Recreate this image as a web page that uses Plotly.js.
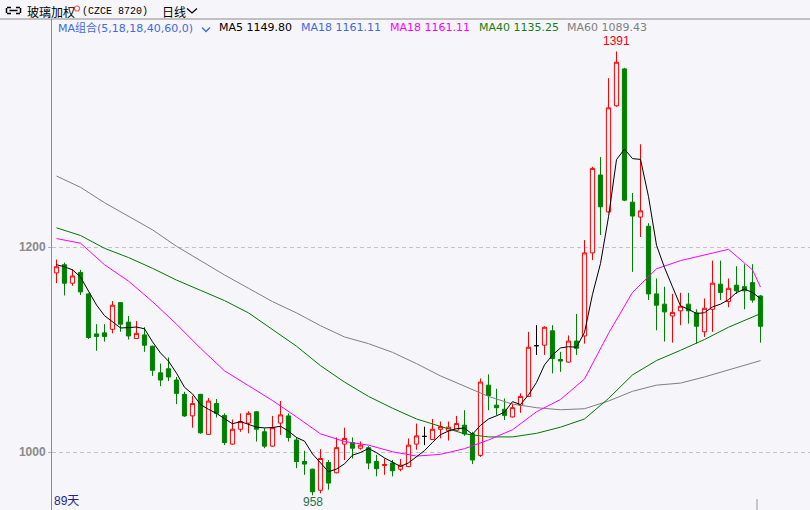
<!DOCTYPE html>
<html><head><meta charset="utf-8">
<script src="https://cdn.plot.ly/plotly-3.0.1.min.js"></script>
<style>html,body{margin:0;padding:0;background:#f5f5fa;}#chart{width:810px;height:510px;}</style>
</head><body><div id="chart"></div>
<script>
// ---- data ----
const days = [0,1,2,3,4,5,6,7,8,9,10,11,12,13,14,15,16,17,18,19,20,21,22,23,24,25,26,27,28,29,30,31,32,33,34,35,36,37,38,39,40,41,42,43,44,45,46,47,48,49,50,51,52,53,54,55,56,57,58,59,60,61,62,63,64,65,66,67,68,69,70,71,72,73,74,75,76,77,78,79,80,81,82,83,84,85,86,87,88];
const openP = [1175,1183,1165,1175.5,1154.5,1115.5,1116.5,1120,1146,1127,1111,1114.5,1103.5,1077.5,1081.5,1070.5,1056.5,1035.5,1056.5,1017.5,1047.5,1036,1008,1022.5,1028.5,1039.5,1020,1006,1028.5,1035.5,1012,991,983.5,963,990,980,1008,1009.5,1004,1004.5,991,987.2,989.5,983.5,986,1008,1015.5,1012.5,1022.5,1021,1021.5,1026.5,1018,997,1065.5,1046,1042,1034.5,1046,1054.5,1104,1104.5,1118.5,1090.5,1088,1108.5,1113.5,1194.5,1270.5,1234.5,1338,1374,1244,1229.5,1220.5,1154.5,1144.5,1133,1138,1144.5,1136,1117.5,1139.5,1164,1147,1163,1161.5,1165.5,1152.5];
const highP = [1188,1185,1178.5,1178,1155,1125,1125,1147.5,1146.5,1133,1128,1122,1104,1086.5,1092.5,1073.5,1059,1055,1057,1053,1052,1038,1032,1038,1040,1040,1023.5,1035.5,1050,1038,1015,1001.5,984,1003,992.5,1014.5,1024,1014.5,1010.5,1006,997.5,994,992.5,993.5,1013.5,1028,1025,1032.5,1030,1030,1035.5,1041,1020,1072,1076,1062,1052.5,1047.5,1057.5,1117.5,1124,1123,1124,1098,1114,1135,1207,1278.5,1288,1365,1391,1375,1253,1300.5,1223.5,1169.5,1161.5,1154.5,1155.5,1155.5,1139.5,1150,1187,1187,1169.5,1181.5,1183.5,1183.5,1153.5];
const lowP = [1165,1153,1162.5,1153.5,1110.5,1099,1108,1116,1117.5,1110,1110.5,1098,1074.5,1064.5,1069.5,1047,1034.5,1024,1018,1017,1034,1007,1007.5,1020,1018.5,1010.5,1004,1005.5,1017,1010.5,984.5,978,958,960,963.5,979.5,992.5,994,1002.5,983.5,976.5,978,976.5,981.5,985.5,1002.5,1007,1012,1013.5,1011.5,1021,1016,988.5,995.5,1041,1036,1031.5,1034,1038.5,1054,1095,1095,1077,1078.5,1087.5,1095,1106,1187.5,1212,1234,1337,1245,1176,1210,1148.5,1119,1108,1107,1124,1125.5,1106,1112.5,1117.5,1148.5,1141.5,1154.5,1139.5,1146,1107];
const closeP = [1181,1165,1172,1156.5,1112,1113,1113,1143.5,1125,1113.5,1116,1104.5,1080,1070.5,1073.5,1057.5,1035.5,1047.5,1019,1050,1038,1009.5,1022.5,1030,1038,1022.5,1006,1024,1036.5,1014.5,991,988.5,961.5,994,970,1004.5,1013.5,1004,1007,989.5,984,988,982,987.5,1007,1016,1015.5,1022.5,1025,1024.5,1028,1018,992.5,1068.5,1055.5,1043.5,1036,1043.5,1054.5,1102.5,1104,1122,1091.5,1089,1108.5,1101.5,1194.5,1277,1239.5,1336,1380.5,1246,1230.5,1235.5,1154.5,1143.5,1137,1136.5,1142.5,1138,1123,1140.5,1165,1156,1160,1157.5,1157.5,1148.5,1123];
const ma5 = [1183,1181,1178,1171,1157.3,1143.7,1133.3,1127.6,1121.3,1121.6,1122.2,1120.5,1107.8,1096.9,1088.9,1077.2,1063.4,1056.9,1046.6,1041.9,1038,1032.8,1027.8,1030,1027.6,1024.5,1023.8,1024.1,1025.4,1020.7,1014.4,1010.9,998.4,989.9,981,983.7,988.7,997.2,999.8,1003.7,999.6,994.5,990.1,986.2,989.7,996.1,1001.6,1009.7,1017.2,1020.7,1023.1,1023.6,1017.6,1026.3,1032.5,1035.6,1039.2,1049.4,1046.6,1056,1068.1,1085.3,1094.9,1101.8,1103,1102.5,1117,1154.1,1184.2,1229.7,1285.5,1295.8,1286.5,1285.7,1249.4,1202,1180.2,1161.4,1142.8,1139.5,1135.4,1136.1,1141.8,1144.5,1148.9,1155.8,1159.2,1155.9,1149.8];
const maDays = [0,3,6,9,12,15,18,21,24,27,30,33,36,39,42,45,48,51,54,57,60,63,66,69,72,75,78,81,84,87,88];
const ma18 = [1208.5,1204,1183,1167,1147,1125,1101.5,1079.5,1065,1050.5,1034.5,1018,1010.5,1007,1000.5,996.3,998,1003.5,1012,1022,1039.5,1051.5,1071.5,1116,1156,1179,1187,1192.5,1198,1178,1161.11];
const ma40 = [1219,1211.5,1199,1190,1179.5,1168,1158,1148,1136,1120,1103.5,1084.5,1068.5,1054.5,1043,1032.5,1025,1018,1015,1015,1018.5,1024.5,1032.5,1052.5,1075.5,1089.5,1099.5,1110,1122,1132,1135.25];
const ma60 = [1269.5,1258.5,1243.5,1230,1217,1201,1187,1173,1160,1147,1136,1123.5,1112.5,1106,1097.5,1086.5,1074.5,1064.5,1054.5,1047,1043.5,1041.5,1042.5,1050,1059.5,1065.5,1067.5,1073.5,1080.5,1087.5,1089.43];
const yTicks = [1000, 1200];
const yTickText = ['1000', '1200'];
const legendTexts = ['MA组合(5,18,18,40,60,0)', 'MA5 1149.80', 'MA18 1161.11', 'MA18 1161.11', 'MA40 1135.25', 'MA60 1089.43'];
const titleName = '玻璃加权';
const titleCode = '(CZCE 8720)';
const periodName = '日线';
const dayCount = '89天';

// ---- build ----
const BG = '#f5f5fa';
const RED = '#ff0000', GREEN = '#008000';
const L = 52, T = 19, W = 810, H = 510, PW = W - L, PH = H - T;
const px = x => (x - L) / PW;
const py = y => (H - y) / PH;

const norm = {x: [], o: [], h: [], l: [], c: []};
const doji = {x: [], o: [], h: [], l: [], c: []};
days.forEach((d, i) => {
  const t = openP[i] === closeP[i] ? doji : norm;
  t.x.push(d); t.o.push(openP[i]); t.h.push(highP[i]); t.l.push(lowP[i]); t.c.push(closeP[i]);
});

const traces = [
  {type: 'candlestick', x: norm.x, open: norm.o, high: norm.h, low: norm.l, close: norm.c,
   increasing: {line: {color: RED, width: 1}, fillcolor: BG},
   decreasing: {line: {color: GREEN, width: 1}, fillcolor: GREEN},
   whiskerwidth: 0, hoverinfo: 'skip'},
  {type: 'candlestick', x: doji.x, open: doji.o, high: doji.h, low: doji.l, close: doji.c,
   increasing: {line: {color: '#000000', width: 1}, fillcolor: '#000000'},
   decreasing: {line: {color: '#000000', width: 1}, fillcolor: '#000000'},
   whiskerwidth: 0, hoverinfo: 'skip'},
  {type: 'scatter', mode: 'lines', x: maDays, y: ma60, line: {color: '#808080', width: 1}, hoverinfo: 'skip'},
  {type: 'scatter', mode: 'lines', x: maDays, y: ma40, line: {color: '#007800', width: 1}, hoverinfo: 'skip'},
  {type: 'scatter', mode: 'lines', x: maDays, y: ma18, line: {color: '#ff00ff', width: 1}, hoverinfo: 'skip'},
  {type: 'scatter', mode: 'lines', x: days, y: ma5, line: {color: '#000000', width: 1}, hoverinfo: 'skip'}
];

function ann(text, x, y, font, extra) {
  return Object.assign({text: text, xref: 'paper', yref: 'paper', x: px(x), y: py(y),
    xanchor: 'left', yanchor: 'middle', showarrow: false, borderpad: 0, font: font}, extra || {});
}
const cjk = 'Noto Sans CJK SC';
const legFont = (c) => ({family: 'DejaVu Sans, ' + cjk, size: 11, color: c});

const iMax = highP.indexOf(Math.max(...highP));
const iMin = lowP.indexOf(Math.min(...lowP));

const annotations = [
  ann(titleName, 26, 11.5, {family: cjk, size: 12, color: '#000'}),
  ann(titleCode, 81, 11.5, {family: 'Liberation Mono, monospace', size: 10, color: '#000'}),
  ann(periodName, 160.5, 11.5, {family: cjk, size: 12, color: '#000'}),
  ann(legendTexts[0], 56.5, 27.5, legFont('#4169e1')),
  ann(legendTexts[1], 217.5, 27.5, legFont('#000000')),
  ann(legendTexts[2], 300, 27.5, legFont('#4169e1')),
  ann(legendTexts[3], 389, 27.5, legFont('#ff00ff')),
  ann(legendTexts[4], 477.5, 27.5, legFont('#178017')),
  ann(legendTexts[5], 566, 27.5, legFont('#808080')),
  ann(dayCount, 52.5, 501, {family: 'Liberation Sans, ' + cjk, size: 12, color: '#1e1e96'}),
  {text: String(Math.round(highP[iMax])), xref: 'x', yref: 'y', x: days[iMax], y: highP[iMax],
   xanchor: 'center', yanchor: 'bottom', yshift: 2, showarrow: false, borderpad: 0,
   font: {family: 'Liberation Sans, Arial', size: 12, color: RED}},
  {text: String(Math.round(lowP[iMin])), xref: 'x', yref: 'y', x: days[iMin], y: lowP[iMin],
   xanchor: 'center', yanchor: 'top', yshift: 1, showarrow: false, borderpad: 0,
   font: {family: 'Liberation Sans, Arial', size: 12, color: '#2a7050'}}
];

function chevron(x0, y0, w, h, color) {
  const p = 'M' + px(x0) + ',' + py(y0) + ' L' + px(x0 + w / 2) + ',' + py(y0 + h) + ' L' + px(x0 + w) + ',' + py(y0);
  return {type: 'path', xref: 'paper', yref: 'paper', path: p, line: {color: color, width: 1.3}};
}
function seg(x0, y0, x1, y1, color, w) {
  return {type: 'line', xref: 'paper', yref: 'paper', x0: px(x0), x1: px(x1), y0: py(y0), y1: py(y1), line: {color: color, width: w}};
}
const shapes = [
  seg(0, 19, W, 19, '#8c8c8c', 1),
  chevron(187, 8.5, 10, 4.5, '#000'),
  chevron(202, 27.5, 8, 4, '#4169e1'),
  // link icon: two bracket halves joined by a bar
  seg(11, 7.5, 7, 7.5, '#000', 1.5), seg(6.5, 8, 6.5, 13, '#000', 1.5), seg(7, 13.5, 11, 13.5, '#000', 1.5),
  seg(16, 7.5, 20, 7.5, '#000', 1.5), seg(20.5, 8, 20.5, 13, '#000', 1.5), seg(16, 13.5, 20, 13.5, '#000', 1.5),
  seg(9.5, 10.5, 17.5, 10.5, '#000', 1.5),
  {type: 'circle', xref: 'paper', yref: 'paper', x0: px(74.5), x1: px(79.5), y0: py(6), y1: py(11), line: {color: '#ff5a5a', width: 1.2}},
  seg(757, 499, 757, 510, '#999', 1)
];

const layout = {
  width: W, height: H,
  margin: {l: L, r: 0, t: T, b: 0, pad: 0},
  paper_bgcolor: BG, plot_bgcolor: BG,
  showlegend: false, hovermode: false,
  boxgap: 0.25,
  xaxis: {range: [-0.5625, 94.1875], showgrid: false, zeroline: false, showticklabels: false, ticks: '',
          showline: false, rangeslider: {visible: false}, fixedrange: true},
  yaxis: {range: [943.7, 1422.7], tickvals: yTicks, ticktext: yTickText, showgrid: true,
          gridcolor: '#c4c4c4', griddash: '4px,3px', gridwidth: 1, zeroline: false,
          showline: true, linecolor: '#8c8c8c', linewidth: 1, ticks: 'outside', ticklen: 3,
          tickcolor: '#9fb6d6', tickfont: {family: 'Liberation Sans, Arial', size: 12, color: '#8a8a8a', weight: 'bold'},
          fixedrange: true},
  annotations: annotations,
  shapes: shapes
};

Plotly.newPlot('chart', traces, layout, {staticPlot: true, displayModeBar: false});
</script>
</body></html>
